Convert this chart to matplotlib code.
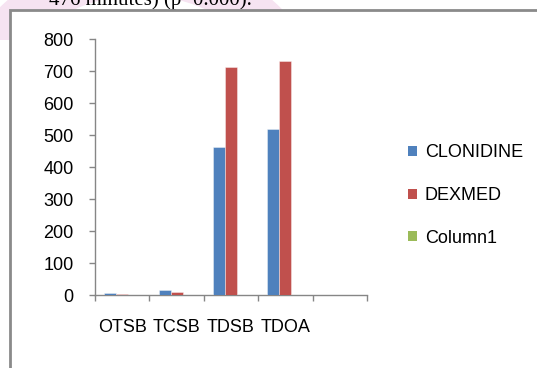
import matplotlib
matplotlib.use("Agg")
import matplotlib.pyplot as plt
from matplotlib.patches import Wedge, Rectangle, Patch
import numpy as np

categories = ["OTSB", "TCSB", "TDSB", "TDOA", ""]
series_names = ["CLONIDINE", "DEXMED", "Column1"]
clonidine = [6, 15, 461, 518, 0]
dexmed = [3, 9, 714, 732, 0]
column1 = [0, 0, 0, 0, 0]
y_ticks = [0, 100, 200, 300, 400, 500, 600, 700, 800]
colors = ["#4F81BD", "#C0504D", "#9BBB59"]

W, H = 537, 368
fig = plt.figure(figsize=(W / 100, H / 100), dpi=100)

# background layer (page fragment)
bg = fig.add_axes([0, 0, 1, 1])
bg.set_xlim(0, W)
bg.set_ylim(H, 0)
bg.axis("off")
clip = Rectangle((0, 0), W, 40, transform=bg.transData)
ring = Wedge((140, 150), 200, 0, 360, width=45, facecolor="#f6e3f1",
             edgecolor="none", zorder=0)
bg.add_patch(ring)
ring.set_clip_path(clip)
bg.text(252, 5, "476 minutes) (p=0.000).", family="Liberation Serif",
        fontsize=15, ha="right", va="baseline", color="black", zorder=1)
bg.add_patch(Rectangle((10, 10), W + 20, H + 20, facecolor="white",
                       edgecolor="#8a8a8a", linewidth=2.0, zorder=2))

plt.rcParams["font.family"] = ["Liberation Sans", "DejaVu Sans"]

left, right, y0, y800 = 95, 367, 295, 39
ax = fig.add_axes([left / W, (H - y0) / H, (right - left) / W, (y0 - y800) / H])
ax.set_facecolor("none")

x = np.arange(len(categories)) + 0.5
bw = 0.22
for i, (vals, name) in enumerate(zip([clonidine, dexmed, column1], series_names)):
    ax.bar(x + (i - 1) * bw, vals, width=bw, color=colors[i],
           edgecolor=(1, 1, 1, 0.45), linewidth=0.6, label=name, zorder=3)

ax.set_xlim(0, len(categories))
ax.set_ylim(0, 800)
ax.set_yticks(y_ticks)
ax.set_yticklabels([str(v) for v in y_ticks])
ax.set_xticks(x)
ax.set_xticklabels(categories)
ax.set_xticks(np.arange(len(categories) + 1), minor=True)

for s in ["top", "right"]:
    ax.spines[s].set_visible(False)
for s in ["left", "bottom"]:
    ax.spines[s].set_color("#868686")
    ax.spines[s].set_linewidth(1.0)

ax.tick_params(axis="y", direction="out", length=4.5, color="#868686",
               labelsize=13, pad=11, width=1)
ax.tick_params(axis="x", which="major", length=0, labelsize=13, pad=17)
ax.tick_params(axis="x", which="minor", direction="out", length=4.5,
               color="#868686", width=1)

handles = [Patch(facecolor=c, edgecolor="none") for c in colors]
fig.legend(handles, series_names, loc="upper left",
           bbox_to_anchor=(394 / W, 1 - 130 / H), frameon=False,
           fontsize=13, handlelength=0.5, handleheight=0.5,
           handletextpad=0.4, labelspacing=1.42, borderpad=0.3)

fig.savefig("out.png", dpi=100)
